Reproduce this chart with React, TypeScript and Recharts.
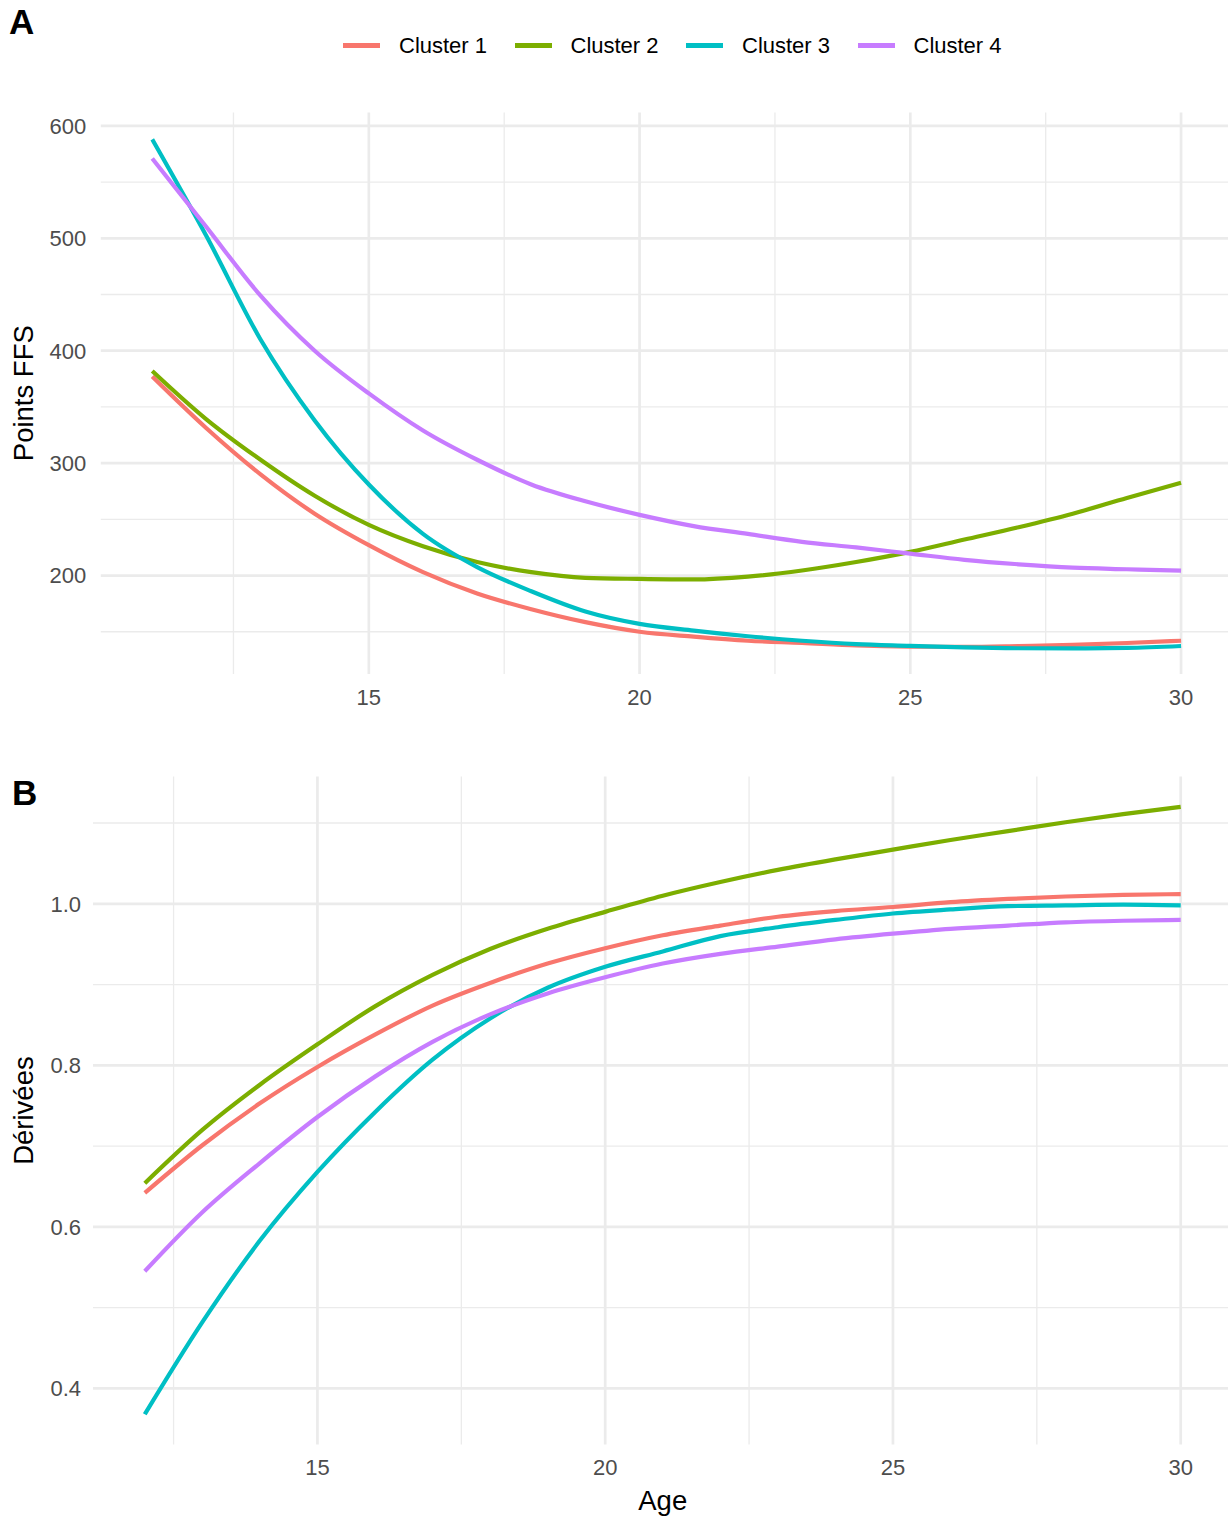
import React from 'react';
import { CartesianGrid, Legend, Line, LineChart, XAxis, YAxis } from 'recharts';

const CLUSTERS = ['Cluster 1', 'Cluster 2', 'Cluster 3', 'Cluster 4'];
const COLORS = ['#F8766D', '#7CAE00', '#00BFC4', '#C77CFF'];

// panel A : points FFS by age
const AGES_A = [11, 12, 13, 14, 15, 16, 17, 18, 19, 20, 21, 22, 23, 24, 25, 26, 27, 28, 29, 30];
const FFS_C1 = [377, 331, 290, 255, 227, 203, 184, 170, 158.5, 150, 145.6, 142, 140, 137.8, 136.8, 136.6, 137.3, 138.3, 140, 142];
const FFS_C2 = [382, 339, 303, 271, 245, 226, 212, 203, 198, 197, 196.5, 199, 204.5, 212, 221, 232, 243, 255, 269, 282.5];
const FFS_C3 = [588, 502, 410, 338, 281, 237, 207.5, 186, 168, 157, 151, 146, 142, 139, 137.5, 136, 135.3, 135.2, 135.6, 137.3];
const FFS_C4 = [571, 510, 449, 400, 362, 329, 303, 281, 266, 254, 244, 237, 230, 225, 219.5, 214, 210, 207, 205.6, 204.3];
const TICKS_A_X = [15, 20, 25, 30];
const MINOR_A_X = [12.5, 17.5, 22.5, 27.5];
const TICKS_A_Y = [200, 300, 400, 500, 600];
const MINOR_A_Y = [150, 250, 350, 450, 550];

// panel B : derivatives by age
const AGES_B = [12, 13, 14, 15, 16, 17, 18, 19, 20, 21, 22, 23, 24, 25, 26, 27, 28, 29, 30];
const DER_C1 = [0.642, 0.701, 0.753, 0.798, 0.838, 0.874, 0.902, 0.926, 0.945, 0.961, 0.973, 0.984, 0.991, 0.996, 1.002, 1.006, 1.009, 1.011, 1.012];
const DER_C2 = [0.654, 0.72, 0.776, 0.826, 0.873, 0.912, 0.944, 0.969, 0.99, 1.01, 1.027, 1.042, 1.055, 1.067, 1.079, 1.09, 1.101, 1.111, 1.12];
const DER_C3 = [0.368, 0.482, 0.583, 0.668, 0.742, 0.807, 0.858, 0.896, 0.922, 0.941, 0.96, 0.971, 0.98, 0.988, 0.993, 0.997, 0.998, 0.999, 0.998];
const DER_C4 = [0.545, 0.618, 0.679, 0.736, 0.786, 0.829, 0.863, 0.889, 0.909, 0.926, 0.938, 0.947, 0.956, 0.963, 0.969, 0.973, 0.977, 0.979, 0.98];
const TICKS_B_X = [15, 20, 25, 30];
const MINOR_B_X = [12.5, 17.5, 22.5, 27.5];
const TICKS_B_Y = [0.4, 0.6, 0.8, 1.0];
const MINOR_B_Y = [0.5, 0.7, 0.9, 1.1];

const dataA = AGES_A.map((age, i) => ({ age, c1: FFS_C1[i], c2: FFS_C2[i], c3: FFS_C3[i], c4: FFS_C4[i] }));
const dataB = AGES_B.map((age, i) => ({ age, c1: DER_C1[i], c2: DER_C2[i], c3: DER_C3[i], c4: DER_C4[i] }));
const KEYS = ['c1', 'c2', 'c3', 'c4'];

const FONT = '"Liberation Sans", Arial, Helvetica, sans-serif';
const tickStyle = { fontSize: 22, fill: '#4D4D4D', fontFamily: FONT };
const titleStyle = { textAnchor: 'middle' as const, fontSize: 27.5, fill: '#000', fontFamily: FONT };
const GRID = '#EBEBEB';

function LegendRow({ payload }: any) {
  return (
    <div style={{ display: 'flex', alignItems: 'center', paddingLeft: 343, height: 31, fontFamily: FONT }}>
      {(payload || []).map((p: any, i: number) => (
        <div key={p.value} style={{ display: 'flex', alignItems: 'center', marginRight: i < 3 ? 27.5 : 0 }}>
          <span style={{ display: 'inline-block', width: 37, height: 5, background: p.color, marginRight: 19 }} />
          <span style={{ fontSize: 22, color: '#000', lineHeight: '31px', width: 88, whiteSpace: 'nowrap' }}>{p.value}</span>
        </div>
      ))}
    </div>
  );
}

function series() {
  return KEYS.map((k, i) => (
    <Line
      key={k}
      type="monotone"
      dataKey={k}
      name={CLUSTERS[i]}
      stroke={COLORS[i]}
      strokeWidth={4.2}
      dot={false}
      activeDot={false}
      isAnimationActive={false}
    />
  ));
}

export default function App() {
  return (
    <div style={{ position: 'absolute', left: 0, top: 0, width: 1228, height: 1517, overflow: 'hidden', background: '#fff', fontFamily: FONT }}>
      <div style={{ position: 'absolute', left: 0, top: 0 }}>
        <LineChart width={1233} height={740} data={dataA} margin={{ top: 112.4, right: 0.5, bottom: 0, left: 0 }}>
          <CartesianGrid stroke={GRID} strokeWidth={1.3} horizontalValues={MINOR_A_Y} verticalValues={MINOR_A_X} syncWithTicks />
          <CartesianGrid stroke={GRID} strokeWidth={2.7} syncWithTicks />
          <XAxis
            type="number"
            dataKey="age"
            domain={[10.05, 30.95]}
            allowDataOverflow
            ticks={TICKS_A_X}
            tickLine={false}
            axisLine={false}
            tickSize={0}
            tickMargin={15}
            height={66}
            tick={tickStyle}
          />
          <YAxis
            type="number"
            domain={[112.4, 612]}
            allowDataOverflow
            ticks={TICKS_A_Y}
            tickLine={false}
            axisLine={false}
            tickSize={0}
            tickMargin={14.5}
            width={100.8}
            tick={tickStyle}
            label={{ value: 'Points FFS', angle: -90, position: 'insideLeft', offset: 23, style: titleStyle }}
          />
          <Legend verticalAlign="middle" align="center" layout="horizontal" wrapperStyle={{ top: 30, left: 0, width: 1233, height: 31 }} content={LegendRow} />
          {series()}
        </LineChart>
      </div>

      <div style={{ position: 'absolute', left: 0, top: 740 }}>
        <LineChart width={1233} height={777} data={dataB} margin={{ top: 36.5, right: 0.5, bottom: 0, left: 0 }}>
          <CartesianGrid stroke={GRID} strokeWidth={1.3} horizontalValues={MINOR_B_Y} verticalValues={MINOR_B_X} syncWithTicks />
          <CartesianGrid stroke={GRID} strokeWidth={2.7} syncWithTicks />
          <XAxis
            type="number"
            dataKey="age"
            domain={[11.1, 30.9]}
            allowDataOverflow
            ticks={TICKS_B_X}
            tickLine={false}
            axisLine={false}
            tickSize={0}
            tickMargin={15}
            height={72.4}
            tick={tickStyle}
            label={{ value: 'Age', position: 'insideBottom', offset: 7, style: titleStyle }}
          />
          <YAxis
            type="number"
            domain={[0.3304, 1.1576]}
            allowDataOverflow
            ticks={TICKS_B_Y}
            tickFormatter={(v: number) => v.toFixed(1)}
            tickLine={false}
            axisLine={false}
            tickSize={0}
            tickMargin={12}
            width={93}
            tick={tickStyle}
            label={{ value: 'Dérivées', angle: -90, position: 'insideLeft', offset: 23, style: titleStyle }}
          />
          {series()}
        </LineChart>
      </div>

      <div style={{ position: 'absolute', left: 9, top: 3.5, fontSize: 35, fontWeight: 'bold', lineHeight: '35px', color: '#000' }}>A</div>
      <div style={{ position: 'absolute', left: 12, top: 774.6, fontSize: 35, fontWeight: 'bold', lineHeight: '35px', color: '#000' }}>B</div>
    </div>
  );
}
